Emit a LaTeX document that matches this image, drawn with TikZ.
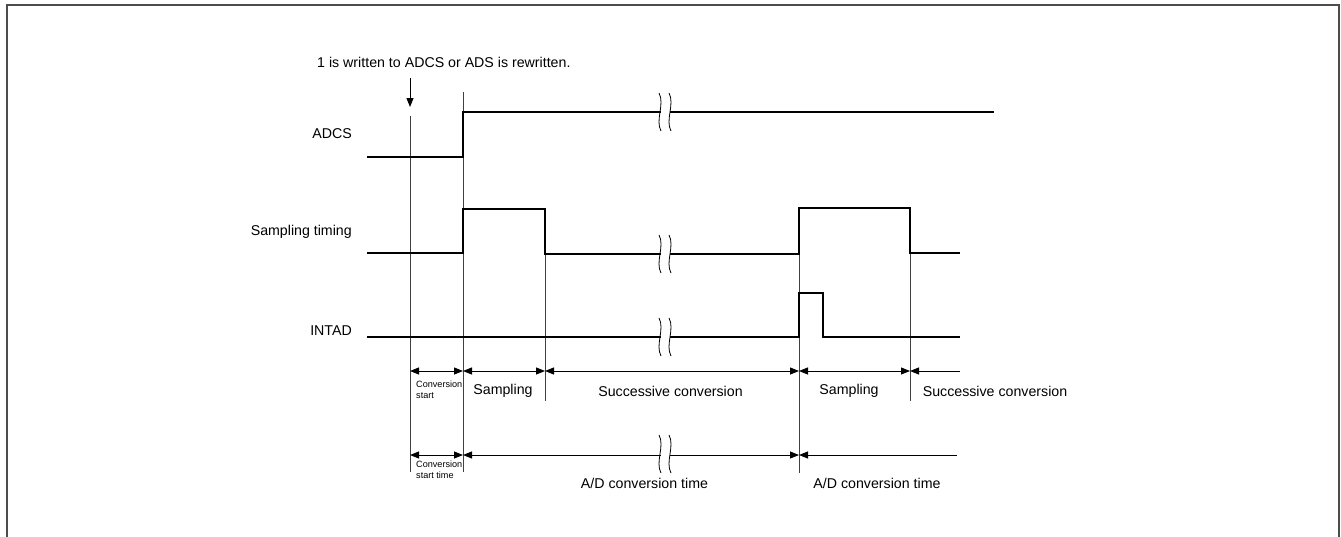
\documentclass[tikz,border=0pt]{standalone}
\usepackage{fontspec}
\setmainfont{Liberation Sans}
\usetikzlibrary{arrows.meta}
\newcommand\bigtxt{\fontsize{14.2}{17}\selectfont}
\newcommand\smalltxt{\fontsize{9.1}{11}\selectfont}
\newcommand\brkmark[1]{%
  \fill[white] (661,#1-3) rectangle (670,#1+3);
  \draw[breakline] (659,#1-19) .. controls (665,#1-8) and (655,#1+8) .. (661,#1+19);
  \draw[breakline] (669,#1-19) .. controls (675,#1-8) and (665,#1+8) .. (671,#1+19);
}
\tikzset{
  frameline/.style={draw=black!70, line width=2pt},
  signal/.style={line width=2pt, line join=miter},
  guide/.style={line width=0.9pt, draw=black!75},
  breakline/.style={line width=0.8pt},
  dimboth/.style={line width=0.9pt, {Triangle[length=9pt,width=7pt]}-{Triangle[length=9pt,width=7pt]}},
  dimleft/.style={line width=0.9pt, {Triangle[length=9pt,width=7pt]}-},
  lbl/.style={inner sep=0pt, font=\bigtxt},
  slbl/.style={inner sep=0pt, font=\smalltxt, align=left, anchor=north west}
}
\begin{document}
\begin{tikzpicture}[x=1pt,y=-1pt]
\useasboundingbox (0,0) rectangle (1341,536);
% frame
\draw[frameline] (7,537) -- (7,5) -- (1339,5) -- (1339,537);

% top text and arrow
\node[lbl, anchor=west] (note) at (317,62.5) {1 is written to ADCS or ADS is rewritten.};
\coordinate (arrS) at (410,78);
\coordinate (arrE) at (410,107);
\draw[line width=0.9pt, -{Triangle[length=9pt,width=7pt]}] (arrS) -- (arrE);

% signal labels
\node[lbl, anchor=east] (lADCS) at (352,134) {ADCS};
\node[lbl, anchor=east] (lST) at (352,232) {Sampling timing};
\node[lbl, anchor=east] (lINT) at (352,331) {INTAD};

% guide lines
\draw[guide] (410,116) -- (410,472);
\draw[guide] (463,92) -- (463,472);
\draw[guide] (545,209) -- (545,401);
\draw[guide] (799,208) -- (799,473);
\draw[guide] (910,252) -- (910,401);

% signals
\draw[signal] (367,157) -- (463,157) -- (463,112) -- (994,112);
\draw[signal] (367,253) -- (463,253) -- (463,209) -- (545,209) -- (545,254) -- (799,254) -- (799,208) -- (910,208) -- (910,252.5) -- (960,252.5);
\draw[signal] (367,337) -- (799,337) -- (799,293) -- (822.5,293) -- (822.5,337) -- (960,337);

% break marks
\brkmark{112}
\brkmark{254}
\brkmark{337}

% dimension row 1
\coordinate (a0) at (410,371);
\coordinate (a1) at (463,371);
\coordinate (a2) at (545,371);
\coordinate (a3) at (799,371);
\coordinate (a4) at (910,371);
\coordinate (a5) at (960,371);
\draw[dimboth] (a0) -- (a1);
\draw[dimboth] (a1) -- (a2);
\draw[dimboth] (a2) -- (a3);
\draw[dimboth] (a3) -- (a4);
\draw[dimleft] (a4) -- (a5);

% dimension row 2
\coordinate (b0) at (410,455);
\coordinate (b1) at (463,455);
\coordinate (b3) at (799,455);
\coordinate (b5) at (957,455);
\draw[dimboth] (b0) -- (b1);
\draw[dimboth] (b1) -- (b3);
\draw[dimleft] (b3) -- (b5);
\brkmark{454}

% row 1 labels
\node[slbl] (cs) at (416,380.5) {Conversion\\start};
\node[lbl] (samp1) at (503,391) {Sampling};
\node[lbl] (succ1) at (670.5,391) {Successive conversion};
\node[lbl] (samp2) at (849,391) {Sampling};
\node[lbl] (succ2) at (995,391) {Successive conversion};

% row 2 labels
\node[slbl] (cst) at (416,460.5) {Conversion\\start time};
\node[lbl] (adc1) at (644.5,483) {A/D conversion time};
\node[lbl] (adc2) at (877,483) {A/D conversion time};
\end{tikzpicture}
\end{document}
